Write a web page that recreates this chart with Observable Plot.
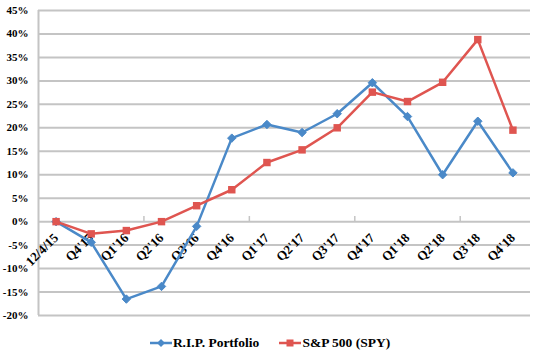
<!DOCTYPE html>
<html>
<head>
<meta charset="utf-8">
<script src="https://cdn.jsdelivr.net/npm/d3@7"></script>
<script src="https://cdn.jsdelivr.net/npm/@observablehq/plot@0.6"></script>
<style>
  html, body { margin: 0; padding: 0; background: #fff; }
  #chart svg { display: block; }
  #legend { height: 25px; display: flex; justify-content: center; align-items: center; font-family: "Liberation Serif", "Times New Roman", serif; font-weight: bold; font-size: 13.5px; color: #000; padding-left: 4px; box-sizing: border-box; }
  .item { display: flex; align-items: center; margin: 0 10px; }
  .item svg { margin-right: 1px; }
</style>
</head>
<body>
<div id="chart"></div>
<div id="legend"></div>
<script>
const categories = ["12/4/15","Q4'15","Q1'16","Q2'16","Q3'16","Q4'16","Q1'17","Q2'17","Q3'17","Q4'17","Q1'18","Q2'18","Q3'18","Q4'18"];
const ripValues = [0, -4.4, -16.5, -13.8, -1.0, 17.8, 20.7, 19.0, 23.0, 29.6, 22.4, 10.0, 21.4, 10.4];
const spyValues = [0, -2.6, -1.9, 0.0, 3.4, 6.8, 12.6, 15.3, 20.0, 27.6, 25.6, 29.7, 38.8, 19.5];
const yTicks = [-20, -15, -10, -5, 0, 5, 10, 15, 20, 25, 30, 35, 40, 45];
const seriesNames = ["R.I.P. Portfolio", "S&P 500 (SPY)"];
const colors = ["#4a89c8", "#df5550"];

const rip = ripValues.map((v, i) => ({i, v}));
const spy = spyValues.map((v, i) => ({i, v}));
const catData = categories.map((c, i) => ({i, c}));
const xTickPos = [2.5, 5.5, 8.5, 11.5];

const font = '"Liberation Serif", "Times New Roman", serif';
const chart = Plot.plot({
  width: 536,
  height: 330,
  marginLeft: 38,
  marginRight: 6,
  marginTop: 10,
  marginBottom: 15,
  style: {fontFamily: font, fontWeight: "bold", fontSize: "11px", color: "#000"},
  x: {type: "linear", domain: [-0.5, categories.length - 0.5], axis: null},
  y: {domain: [-20, 45], ticks: yTicks, tickFormat: d => d + "%", tickSize: 0, tickPadding: 10, label: null},
  marks: [
    Plot.ruleY(yTicks, {stroke: "#c4c4c4", strokeWidth: 2}),
    Plot.ruleX([-0.5], {y1: -20, y2: 45, stroke: "#c4c4c4", strokeWidth: 2}),
    Plot.ruleX(xTickPos, {y1: 0, y2: 1.1, stroke: "#c4c4c4", strokeWidth: 1.5}),
    Plot.text(catData, {x: "i", y: () => 0, text: "c", rotate: -45, textAnchor: "end", dx: 0, dy: 14, fontSize: 13, fontWeight: "bold", fill: "#000"}),
    Plot.line(rip, {x: "i", y: "v", stroke: colors[0], strokeWidth: 2.5}),
    Plot.dot(rip, {x: "i", y: "v", symbol: "diamond2", r: 3.8, fill: colors[0], stroke: colors[0], strokeWidth: 1}),
    Plot.line(spy, {x: "i", y: "v", stroke: colors[1], strokeWidth: 2.5}),
    Plot.dot(spy, {x: "i", y: "v", symbol: "square", r: 4.2, fill: colors[1], stroke: "none"})
  ]
});
document.getElementById("chart").appendChild(chart);

const legend = document.getElementById("legend");
const symbols = ["diamond", "square"];
seriesNames.forEach((name, k) => {
  const item = document.createElement("span");
  item.className = "item";
  const ns = "http://www.w3.org/2000/svg";
  const sw = document.createElementNS(ns, "svg");
  sw.setAttribute("width", 22); sw.setAttribute("height", 10);
  const ln = document.createElementNS(ns, "line");
  ln.setAttribute("x1", 0); ln.setAttribute("x2", 22); ln.setAttribute("y1", 5); ln.setAttribute("y2", 5);
  ln.setAttribute("stroke", colors[k]); ln.setAttribute("stroke-width", 2.5);
  sw.appendChild(ln);
  if (symbols[k] === "diamond") {
    const p = document.createElementNS(ns, "path");
    p.setAttribute("d", "M11,1 L15,5 L11,9 L7,5 Z");
    p.setAttribute("fill", colors[k]);
    sw.appendChild(p);
  } else {
    const r = document.createElementNS(ns, "rect");
    r.setAttribute("x", 7.5); r.setAttribute("y", 1.5); r.setAttribute("width", 7); r.setAttribute("height", 7);
    r.setAttribute("fill", colors[k]);
    sw.appendChild(r);
  }
  item.appendChild(sw);
  const t = document.createElement("span");
  t.textContent = name;
  item.appendChild(t);
  legend.appendChild(item);
});
</script>
</body>
</html>
